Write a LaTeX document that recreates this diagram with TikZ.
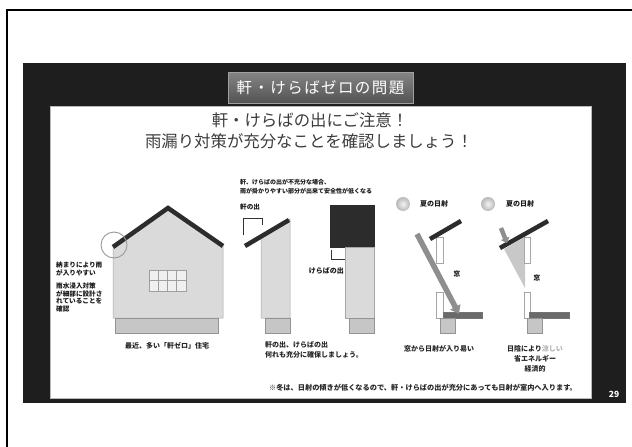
\documentclass[tikz,border=0pt]{standalone}
\usepackage{fontspec}
\usetikzlibrary{arrows.meta}
\setmainfont{Noto Sans CJK JP}
\newfontfamily\jp{Noto Sans CJK JP}
\newfontfamily\jpwide[LetterSpace=9]{Noto Sans CJK JP}
\definecolor{slidebg}{HTML}{1E1E1E}
\definecolor{titlegray}{HTML}{5C5C5C}
\definecolor{headgray}{HTML}{3C3C3C}
\definecolor{wallgray}{HTML}{DADADA}
\definecolor{basegray}{HTML}{C6C6C6}
\definecolor{roofdark}{HTML}{2C2C2C}
\definecolor{slabgray}{HTML}{6A6A6A}
\definecolor{raygray}{HTML}{8E8E8E}
\definecolor{shadegray}{HTML}{C8C8C8}
\definecolor{coolgray}{HTML}{B4B4B4}

\begin{document}
\begin{tikzpicture}[x=1pt,y=-1pt,
  wall/.style={fill=wallgray, draw=gray!70, line width=0.5pt},
  base/.style={fill=basegray, draw=gray!85, line width=0.5pt},
  roof/.style={draw=roofdark, line width=4.5pt},
  winframe/.style={fill=white, draw=gray!70, line width=0.6pt},
  slab/.style={fill=slabgray, draw=gray!90!black, line width=0.4pt},
  ray/.style={draw=raygray, line width=5.5pt, -{Triangle[width=11pt,length=8pt]}},
  note/.style={font=\jp\bfseries\fontsize{6.6}{7.5}\selectfont, text=black!90, align=left, inner sep=0pt},
  caption/.style={font=\jp\bfseries\fontsize{7}{10}\selectfont, text=black!85, inner sep=0pt},
  heading/.style={font=\jp\fontsize{16.4}{20}\selectfont, text=headgray, inner sep=0pt},
  sun/.style={circle, inner color=gray!10, outer color=gray!55, minimum size=14pt, inner sep=0pt}]
\useasboundingbox (0,0) rectangle (632,447);
\fill[white] (0,0) rectangle (632,447);
\draw[line width=1.2pt] (7,447) -- (7,10) -- (632,10);

% slide and panel
\fill[slidebg] (23,63) rectangle (626,403);
\draw[fill=white, draw=gray!55, line width=0.8pt] (50,106) rectangle (591,398);
\node[draw=gray!75, line width=0.6pt, top color=titlegray!75, bottom color=titlegray!90!black,
  minimum width=185pt, minimum height=31pt, text=white,
  font=\jpwide\fontsize{15.5}{18}\selectfont] (title) at (320.5,87.5) {軒・けらばゼロの問題};
\node[heading] (head1) at (310,120) {軒・けらばの出にご注意！};
\node[heading] (head2) at (309,141) {雨漏り対策が充分なことを確認しましょう！};

% house
\draw[wall] (113,318) -- (113,247) -- (168,208) -- (223,246) -- (223,318) -- cycle;
\draw[roof, line join=miter] (113,247) -- (168,208) -- (223,246);
\draw[base] (115,318) rectangle (218,333);
\draw[fill=gray!12, draw=gray!75, line width=0.6pt] (149,270) rectangle (186,291);
\foreach \x in {158.25,167.5,176.75}
  \draw[gray!75, line width=0.6pt] (\x,270) -- (\x,291);
\draw[gray!75, line width=0.6pt] (149,280.5) -- (186,280.5);
\node[circle, draw=gray!80, line width=0.9pt, minimum size=26pt, inner sep=0pt] (leakspot) at (114,245) {};
\node[note, anchor=north west] (leaknote) at (56,262) {納まりにより雨\\が入りやすい};
\node[note, anchor=north west] (checknote) at (56,283) {雨水浸入対策\\が細部に設計さ\\れていることを\\確認};
\node[caption] (cap1) at (167,346) {最近、多い「軒ゼロ」住宅};

% eaves and verge
\node[note, font=\jp\bfseries\fontsize{6}{9.5}\selectfont, anchor=north west] (warn) at (240,179)
  {軒、けらばの出が不充分な場合、\\雨が掛かりやすい部分が出来て安全性が低くなる};
\node[note, anchor=west] (eavelbl) at (240,207) {軒の出};
\draw[black!80, line width=0.6pt] (243,235) -- (243,218) -- (262,218) -- (262,225);
\draw[wall] (261,318) -- (261,236) -- (290,219) -- (290,318) -- cycle;
\draw[roof] (245,246) -- (289,220);
\draw[base] (265,318) rectangle (290,333);
\draw[fill=roofdark, draw=roofdark] (330,205) rectangle (374,247);
\draw[wall] (345,247) rectangle (374,318);
\draw[base] (349,318) rectangle (374,333);
\draw[black!80, line width=0.6pt] (331,250) -- (331,259) -- (345,259);
\node[note, font=\jp\bfseries\fontsize{7}{8}\selectfont, anchor=east] (vergelbl) at (344,271) {けらばの出};
\node[caption, align=left, anchor=north west] (cap2) at (265,341) {軒の出、けらばの出\\何れも充分に確保しましょう。};

% sunlight, short eaves
\node[sun] (sun1) at (403,204) {};
\node[note, font=\jp\bfseries\fontsize{7}{8}\selectfont, anchor=west] (sunlbl1) at (420,204) {夏の日射};
\draw[winframe] (436,237) rectangle (443,263);
\draw[winframe] (436,292) rectangle (443,318);
\draw[slab] (443,312) rectangle (482,318);
\draw[base] (440,318) rectangle (455,333);
\draw[roof] (430,239) -- (461,221);
\coordinate (rayA) at (417,234);
\coordinate (rayB) at (459,314);
\draw[ray] (rayA) -- (rayB);
\node[note, anchor=center] (win1) at (457,274) {窓};
\node[caption] (cap3) at (439,349) {窓から日射が入り易い};

% sunlight, deep eaves
\node[sun] (sun2) at (488,204) {};
\node[note, font=\jp\bfseries\fontsize{7}{8}\selectfont, anchor=west] (sunlbl2) at (506,204) {夏の日射};
\fill[shadegray] (504,249) -- (525,237) -- (525,288) -- cycle;
\draw[winframe] (524,237) rectangle (530,263);
\draw[winframe] (524,292) rectangle (530,318);
\draw[slab] (529,312) rectangle (569,318);
\draw[base] (527,318) rectangle (542,333);
\draw[roof] (500,248) -- (548,221);
\coordinate (rayC) at (501,228);
\coordinate (rayD) at (507,243);
\draw[ray, line width=4.5pt, -{Triangle[width=9pt,length=5pt]}] (rayC) -- (rayD);
\node[note, anchor=center] (win2) at (537,278) {窓};
\node[caption, align=center] (cap4) at (535,359) {日陰により{\color{coolgray}涼しい}\\省エネルギー\\経済的};

\node[caption, font=\jp\bfseries\fontsize{7.2}{9}\selectfont] (winter) at (423,388)
  {※冬は、日射の傾きが低くなるので、軒・けらばの出が充分にあっても日射が室内へ入ります。};
\node[text=white, font=\jp\bfseries\fontsize{8.5}{10}\selectfont, inner sep=0pt] (pagenum) at (614,394) {29};
\end{tikzpicture}
\end{document}
